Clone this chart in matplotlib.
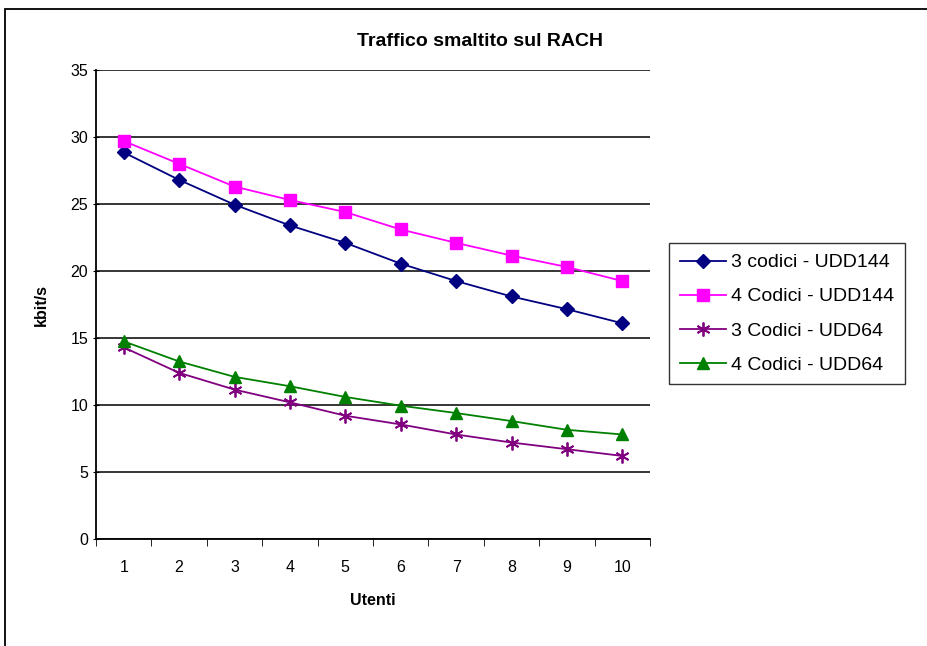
import matplotlib
matplotlib.use("Agg")
import matplotlib.pyplot as plt
from matplotlib.patches import Rectangle


# =====================================
# DATA
# =====================================

utenti = [1, 2, 3, 4, 5, 6, 7, 8, 9, 10]

cod3_udd144 = [28.85, 26.8, 24.95, 23.4, 22.1, 20.55, 19.25, 18.1, 17.15, 16.1]
cod4_udd144 = [29.7, 28.0, 26.3, 25.3, 24.4, 23.1, 22.1, 21.15, 20.3, 19.25]
cod3_udd64 = [14.3, 12.4, 11.15, 10.2, 9.2, 8.55, 7.8, 7.2, 6.7, 6.2]
cod4_udd64 = [14.75, 13.25, 12.1, 11.4, 10.6, 9.95, 9.4, 8.8, 8.15, 7.8]

labels = [
    "3 codici - UDD144",
    "4 Codici - UDD144",
    "3 Codici - UDD64",
    "4 Codici - UDD64",
]

y_ticks = [0, 5, 10, 15, 20, 25, 30, 35]


# =====================================
# STYLE
# =====================================

plt.rcParams["font.family"] = ["Liberation Sans", "DejaVu Sans"]


# =====================================
# PLOT
# =====================================

fig = plt.figure(figsize=(9.27, 6.46), dpi=100)

# outer chart frame
fig.patches.append(
    Rectangle(
        (5 / 927, -0.1), 1.2, 1.1 - 9 / 646,
        transform=fig.transFigure,
        fill=False, edgecolor="black", linewidth=1.3
    )
)

ax = fig.add_axes([96 / 927, 1 - 539 / 646, (650 - 96) / 927, (539 - 70) / 646])

ax.plot(utenti, cod3_udd144, color="#000080", marker="D", markersize=7, linewidth=1.3, label=labels[0])
ax.plot(utenti, cod4_udd144, color="#FF00FF", marker="s", markersize=9, linewidth=1.3, label=labels[1])
ax.plot(utenti, cod3_udd64, color="#800080", marker=(6, 2, 0), markersize=10,
        markeredgewidth=1.3, linewidth=1.3, label=labels[2])
ax.plot(utenti, cod4_udd64, color="#008000", marker="^", markersize=9, linewidth=1.3, label=labels[3])

ax.set_xlim(0.5, 10.5)
ax.set_ylim(0, 35)

ax.set_yticks(y_ticks)
ax.set_xticks(utenti)
ax.set_xticks([x + 0.5 for x in range(0, 11)], minor=True)
ax.tick_params(axis="x", which="major", length=0, pad=15, labelsize=11.5)
ax.tick_params(axis="x", which="minor", length=5, direction="out")
ax.tick_params(axis="y", length=5, direction="inout", labelsize=11.5, pad=3)

ax.grid(axis="y", color="black", linewidth=1.1)
ax.set_axisbelow(True)

for side in ["top", "right"]:
    ax.spines[side].set_visible(False)

ax.spines["left"].set_linewidth(1.3)
ax.spines["bottom"].set_linewidth(1.3)

fig.text(480 / 927, 1 - 41 / 646, "Traffico smaltito sul RACH",
         fontsize=14, fontweight="bold", ha="center", va="center")
ax.set_xlabel("Utenti", fontsize=11.5, fontweight="bold", labelpad=13)
ax.set_ylabel("kbit/s", fontsize=11.5, fontweight="bold", labelpad=16)

leg = fig.legend(
    loc="upper left",
    bbox_to_anchor=(669 / 927, 1 - 243 / 646),
    frameon=True,
    fancybox=False,
    edgecolor="black",
    fontsize=14,
    handlelength=2.4,
    handletextpad=0.25,
    labelspacing=0.85,
    borderpad=0.55,
    borderaxespad=0,
)
leg.get_frame().set_linewidth(1.0)

fig.savefig("out.png", dpi=100)
